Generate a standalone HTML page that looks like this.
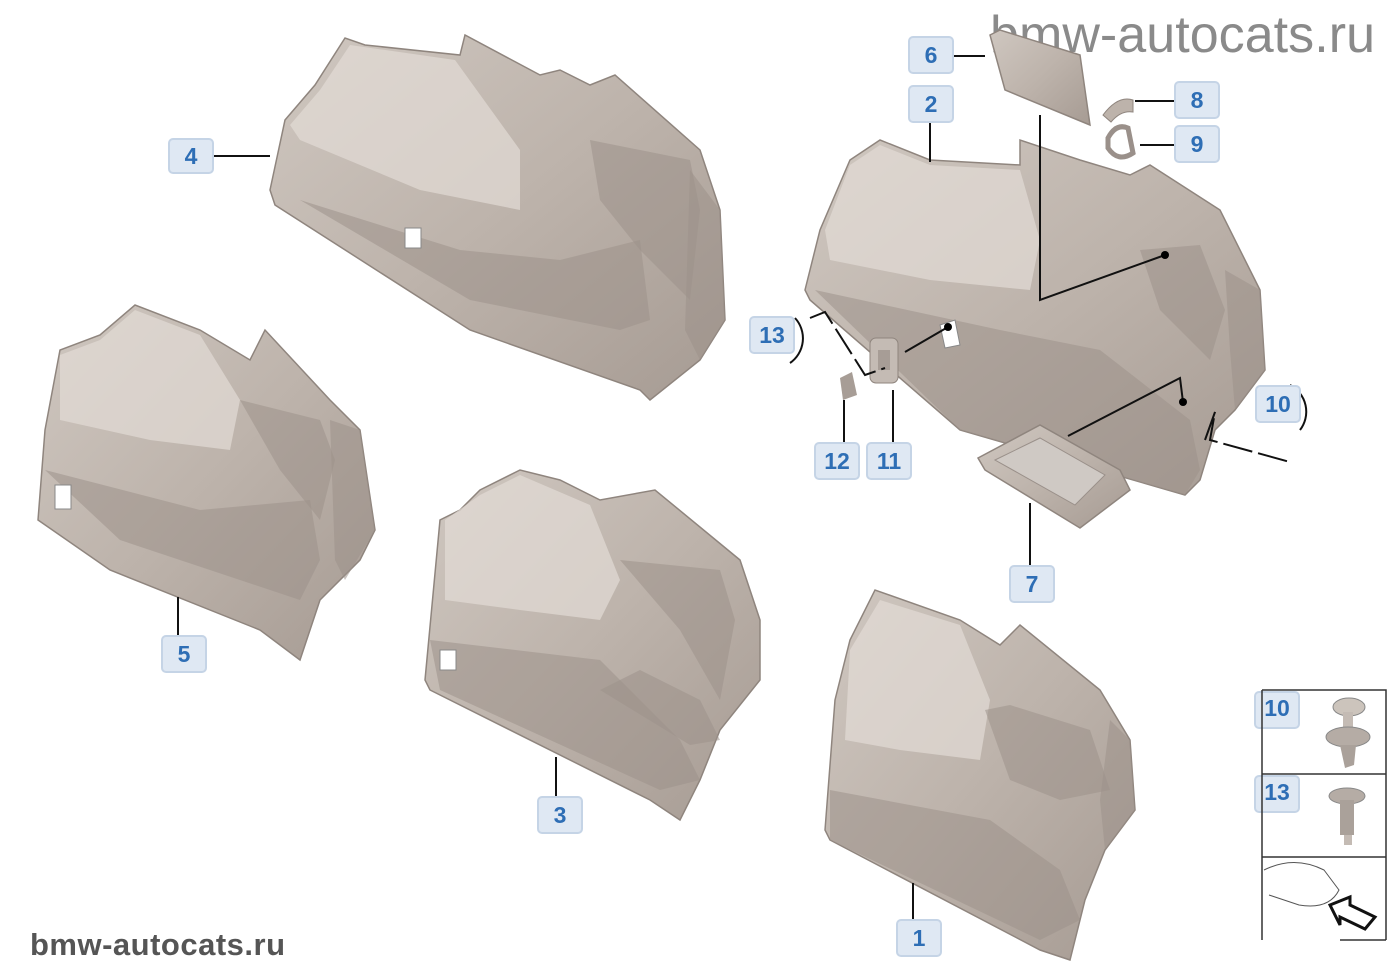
<!DOCTYPE html>
<html><head><meta charset="utf-8"><style>
html,body{margin:0;padding:0;background:#fff;}
svg{display:block;}
.lb rect{fill:#dfe8f3;stroke:#c5d4e6;stroke-width:2;}
.lb text{font-family:"Liberation Sans",sans-serif;font-weight:bold;font-size:23px;fill:#2e6eb5;text-anchor:middle;}
.ln{stroke:#111;stroke-width:2;fill:none;}
.p{fill:url(#g);stroke:#8f857e;stroke-width:1.5;}
.d{fill:#9c928b;opacity:.55;}
.h{fill:#e2dcd6;opacity:.7;}
</style></head><body>
<svg width="1400" height="980" viewBox="0 0 1400 980">
<defs>
<linearGradient id="g" x1="0" y1="0" x2="1" y2="1">
<stop offset="0" stop-color="#cfc7c0"/><stop offset=".5" stop-color="#bdb3ab"/><stop offset="1" stop-color="#a69b93"/>
</linearGradient>
</defs>
<text x="990" y="52" font-family="Liberation Sans,sans-serif" font-size="52" fill="#8a8a8a" textLength="385">bmw-autocats.ru</text>
<text x="30" y="955" font-family="Liberation Sans,sans-serif" font-weight="bold" font-size="31" fill="#555" textLength="255">bmw-autocats.ru</text>

<!-- Panel 4 -->
<polygon class="p" points="270,190 285,120 315,85 345,38 365,45 460,55 465,35 540,75 560,70 590,85 615,75 700,150 720,210 725,320 700,360 650,400 640,390 470,330 275,205"/>
<polygon class="h" points="290,125 320,90 350,45 455,60 520,150 520,210 420,190 300,140"/>
<polygon class="d" points="590,140 690,160 700,210 690,300 640,250 600,200"/>
<polygon class="d" points="690,170 720,210 725,320 700,360 685,330"/>
<polygon class="d" points="300,200 460,250 560,260 640,240 650,320 620,330 470,300"/>
<rect x="405" y="228" width="16" height="20" fill="#fff" stroke="#888"/>
<!-- Panel 5 -->
<polygon class="p" points="38,520 45,430 60,350 100,335 135,305 200,330 250,360 265,330 330,400 360,430 375,530 360,560 320,600 300,660 260,630 110,570"/>
<polygon class="h" points="60,355 100,340 135,310 200,335 240,400 230,450 150,440 60,420"/>
<polygon class="d" points="240,400 320,420 335,460 320,520 280,470"/>
<polygon class="d" points="330,420 360,430 375,530 345,580 335,560"/>
<polygon class="d" points="45,470 200,510 310,500 320,560 300,600 120,540"/>
<rect x="55" y="485" width="16" height="24" fill="#fff" stroke="#888"/>
<!-- Panel 3 -->
<polygon class="p" points="425,680 440,520 460,510 480,490 520,470 560,480 600,500 655,490 740,560 760,620 760,680 720,730 700,780 680,820 650,800 430,690"/>
<polygon class="h" points="445,520 480,495 520,475 590,505 620,580 600,620 520,610 445,600"/>
<polygon class="d" points="620,560 720,570 735,620 720,700 680,630"/>
<polygon class="d" points="600,690 640,670 700,700 720,740 690,745"/>
<polygon class="d" points="430,640 600,660 680,740 700,780 660,790 440,690"/>
<rect x="440" y="650" width="16" height="20" fill="#fff" stroke="#888"/>
<!-- Panel 1 -->
<polygon class="p" points="825,830 835,700 850,640 875,590 960,620 1000,645 1020,625 1100,690 1130,740 1135,810 1105,850 1085,900 1070,960 1040,950 830,840"/>
<polygon class="h" points="850,650 880,600 960,625 990,700 980,760 900,750 845,740"/>
<polygon class="d" points="985,710 1010,705 1090,730 1110,790 1060,800 1010,780"/>
<polygon class="d" points="1110,720 1130,740 1135,810 1105,850 1100,800"/>
<polygon class="d" points="830,790 990,820 1060,870 1080,920 1040,940 830,840"/>
<!-- Panel 2 -->
<polygon class="p" points="805,290 820,230 850,160 880,140 930,160 1020,165 1020,140 1080,160 1130,175 1150,165 1220,210 1260,290 1265,370 1235,410 1215,430 1200,480 1185,495 960,430 810,300"/>
<polygon class="h" points="825,230 850,165 880,145 930,165 1020,170 1040,240 1030,290 930,280 830,260"/>
<polygon class="d" points="1140,250 1200,245 1225,310 1210,360 1160,310"/>
<polygon class="d" points="1225,270 1260,290 1265,370 1235,410 1230,350"/>
<polygon class="d" points="815,290 1000,330 1100,350 1190,420 1200,470 1185,495 960,430"/>
<polygon fill="#fff" stroke="#888" points="940,325 955,320 960,345 945,348"/>
<!-- Tray 7 -->
<polygon class="p" points="978,458 1040,425 1120,470 1130,490 1080,528 985,470"/>
<polygon fill="#cfc9c4" stroke="#9a908a" points="995,460 1040,438 1105,475 1075,505"/>
<!-- Cover 6 -->
<polygon class="p" points="990,35 1000,30 1080,55 1090,125 1005,90"/>
<!-- 8 / 9 clips -->
<path d="M1103,115 q15,-20 30,-15 l0,12 q-12,-2 -22,10 z" fill="#bdb3ab" stroke="#8f857e"/>
<path d="M1108,138 q8,-15 20,-10 l5,25 q-15,10 -25,-5 z" fill="none" stroke="#9a908a" stroke-width="5"/>
<!-- 11, 12 -->
<rect x="870" y="338" width="28" height="45" rx="6" fill="#c4bbb4" stroke="#8f857e"/>
<rect x="878" y="350" width="12" height="20" fill="#a79d96"/>
<polygon points="840,378 852,372 857,395 843,400" fill="#a79d96"/>

<!-- leader lines -->
<line class="ln" x1="210" y1="156" x2="270" y2="156"/>
<line class="ln" x1="178" y1="597" x2="178" y2="635"/>
<line class="ln" x1="556" y1="757" x2="556" y2="797"/>
<line class="ln" x1="913" y1="883" x2="913" y2="920"/>
<line class="ln" x1="930" y1="120" x2="930" y2="162"/>
<line class="ln" x1="953" y1="56" x2="985" y2="56"/>
<line class="ln" x1="1135" y1="101" x2="1180" y2="101"/>
<line class="ln" x1="1140" y1="145" x2="1180" y2="145"/>
<line class="ln" x1="1030" y1="503" x2="1030" y2="565"/>
<polyline class="ln" points="1040,115 1040,300 1165,255"/>
<circle cx="1165" cy="255" r="4"/>
<polyline class="ln" points="1068,436 1180,378 1183,402"/>
<circle cx="1183" cy="402" r="4"/>
<polyline class="ln" points="905,352 948,327"/>
<circle cx="948" cy="327" r="4"/>
<polyline class="ln" points="810,318 825,312 865,375 885,368" stroke-dasharray="30 6"/>
<line class="ln" x1="844" y1="400" x2="844" y2="443"/>
<line class="ln" x1="893" y1="390" x2="893" y2="443"/>
<polyline class="ln" points="1205,440 1215,412 1210,440 1290,462" stroke-dasharray="30 6"/>
<path class="ln" d="M795,318 A30,30 0 0 1 790,363" />
<path class="ln" d="M1290,385 A30,30 0 0 1 1300,430"/>

<!-- labels -->
<g class="lb">
<rect x="169" y="139" width="44" height="34" rx="4"/><text x="191" y="164">4</text>
<rect x="162" y="636" width="44" height="36" rx="4"/><text x="184" y="662">5</text>
<rect x="538" y="797" width="44" height="36" rx="4"/><text x="560" y="823">3</text>
<rect x="897" y="920" width="44" height="36" rx="4"/><text x="919" y="946">1</text>
<rect x="909" y="86" width="44" height="36" rx="4"/><text x="931" y="112">2</text>
<rect x="909" y="37" width="44" height="36" rx="4"/><text x="931" y="63">6</text>
<rect x="1175" y="82" width="44" height="36" rx="4"/><text x="1197" y="108">8</text>
<rect x="1175" y="126" width="44" height="36" rx="4"/><text x="1197" y="152">9</text>
<rect x="1010" y="566" width="44" height="36" rx="4"/><text x="1032" y="592">7</text>
<rect x="750" y="317" width="44" height="36" rx="4"/><text x="772" y="343">13</text>
<rect x="815" y="443" width="44" height="36" rx="4"/><text x="837" y="469">12</text>
<rect x="867" y="443" width="44" height="36" rx="4"/><text x="889" y="469">11</text>
<rect x="1256" y="386" width="44" height="36" rx="4"/><text x="1278" y="412">10</text>
<rect x="1255" y="692" width="44" height="36" rx="4"/><text x="1277" y="716">10</text>
<rect x="1255" y="776" width="44" height="36" rx="4"/><text x="1277" y="800">13</text>
</g>

<!-- legend box -->
<polyline points="1262,690 1386,690 1386,940" fill="none" stroke="#333" stroke-width="1.5"/>
<line x1="1262" y1="690" x2="1262" y2="940" stroke="#333" stroke-width="1.5"/>
<line x1="1262" y1="774" x2="1386" y2="774" stroke="#333" stroke-width="1.5"/>
<line x1="1262" y1="857" x2="1386" y2="857" stroke="#333" stroke-width="1.5"/>
<line x1="1340" y1="940" x2="1386" y2="940" stroke="#333" stroke-width="1.5"/>
<ellipse cx="1349" cy="707" rx="16" ry="9" fill="#ccc4bc" stroke="#888"/>
<rect x="1343" y="712" width="10" height="20" fill="#c4bbb4"/>
<ellipse cx="1348" cy="737" rx="22" ry="10" fill="#b5aca5" stroke="#888"/>
<path d="M1340,745 L1356,745 L1354,765 L1345,768 Z" fill="#aaa19a"/>
<ellipse cx="1347" cy="796" rx="18" ry="8" fill="#b5aca5" stroke="#888"/>
<rect x="1340" y="800" width="14" height="35" fill="#aaa19a"/>
<rect x="1344" y="835" width="8" height="10" fill="#c4bbb4"/>
<path d="M1264,870 q30,-15 60,0 l15,20 q-10,20 -40,15 l-30,-10" fill="none" stroke="#555"/>
<path d="M1330,905 l20,-8 l0,8 l25,12 l-10,12 l-25,-12 l0,8 z" fill="#fff" stroke="#111" stroke-width="3"/>
</svg>
</body></html>
